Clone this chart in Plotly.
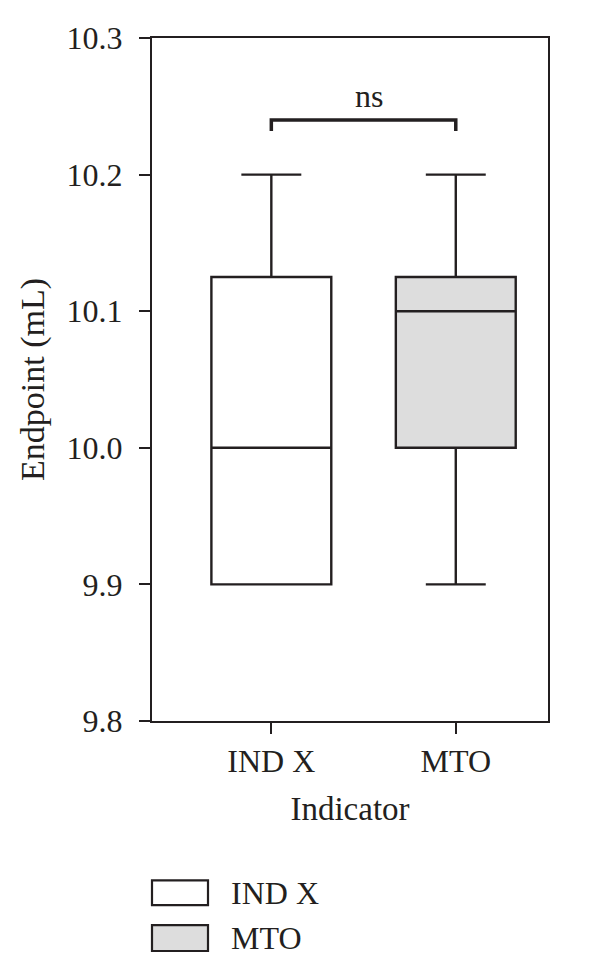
import plotly.graph_objects as go

# ---- data ----
categories = ["IND X", "MTO"]
q1 = [9.9, 10.0]
median = [10.0, 10.1]
q3 = [10.125, 10.125]
lowerfence = [9.9, 9.9]
upperfence = [10.2, 10.2]
fills = ["#ffffff", "#dddddd"]
y_ticks = [9.8, 9.9, 10.0, 10.1, 10.2, 10.3]
sig_label = "ns"
sig_y = 10.24
sig_leg = 10.232

FONT = "Liberation Serif"
FS = 32
INK = "#231f20"

fig = go.Figure()
for i, c in enumerate(categories):
    fig.add_trace(go.Box(
        x=[c], q1=[q1[i]], median=[median[i]], q3=[q3[i]],
        lowerfence=[lowerfence[i]], upperfence=[upperfence[i]],
        name=c, fillcolor=fills[i],
        line=dict(color=INK, width=2.4),
        width=0.65, whiskerwidth=0.5, boxpoints=False,
        showlegend=False, hoverinfo="skip",
    ))

# significance bracket
fig.add_trace(go.Scatter(
    x=[categories[0], categories[0], categories[1], categories[1]],
    y=[sig_leg, sig_y, sig_y, sig_leg],
    mode="lines", line=dict(color=INK, width=3.5),
    showlegend=False, hoverinfo="skip",
))
fig.add_annotation(x=0.53, y=sig_y, xref="x", yref="y", text=sig_label,
                   showarrow=False, yanchor="bottom", yshift=4,
                   font=dict(family=FONT, size=FS, color=INK))

# page layout (the page body adds an 8px offset)
OFF = 8
W, H = 600, 974
PL, PR, PT, PB = 152, 548, 35, 721   # plot area in page pixels
L = PL - OFF
T = PT - OFF
pw, ph = PR - PL, PB - PT
R = W - L - pw
B = H - T - ph
def px(xp): return (xp - PL) / pw
def py(yp): return (PB - yp) / ph

# custom legend (large swatches)
legend_rows = [(881, 906), (926, 952)]
for i, c in enumerate(categories):
    y0, y1 = legend_rows[i]
    fig.add_shape(type="rect", xref="paper", yref="paper",
                  x0=px(152), x1=px(208), y0=py(y1), y1=py(y0),
                  line=dict(color=INK, width=2.2), fillcolor=fills[i])
    fig.add_annotation(xref="paper", yref="paper", x=px(229), y=py((y0 + y1) / 2),
                       text=c, showarrow=False, xanchor="left", yanchor="middle",
                       font=dict(family=FONT, size=FS, color=INK))

fig.update_layout(
    width=W, height=H,
    margin=dict(l=L, r=R, t=T, b=B),
    paper_bgcolor="white", plot_bgcolor="white",
    font=dict(family=FONT, size=FS, color=INK),
    boxmode="overlay",
    showlegend=False,
)
fig.update_xaxes(
    type="category", categoryorder="array", categoryarray=categories,
    range=[-0.647, 1.5],
    showline=True, linecolor=INK, linewidth=2, mirror=True,
    ticks="outside", ticklen=11, tickwidth=2, tickcolor=INK,
    showgrid=False, zeroline=False,
    title=dict(text="Indicator", font=dict(family=FONT, size=33), standoff=18),
    tickfont=dict(family=FONT, size=FS),
)
fig.update_yaxes(
    range=[9.8, 10.3], tickvals=y_ticks, tickformat=".1f",
    showline=True, linecolor=INK, linewidth=2, mirror=True,
    ticks="outside", ticklen=11, tickwidth=2, tickcolor=INK,
    showgrid=False, zeroline=False,
    title=dict(text="Endpoint (mL)", font=dict(family=FONT, size=34), standoff=12),
    tickfont=dict(family=FONT, size=FS),
    ticklabelstandoff=10,
)

fig.write_html("out.html")
